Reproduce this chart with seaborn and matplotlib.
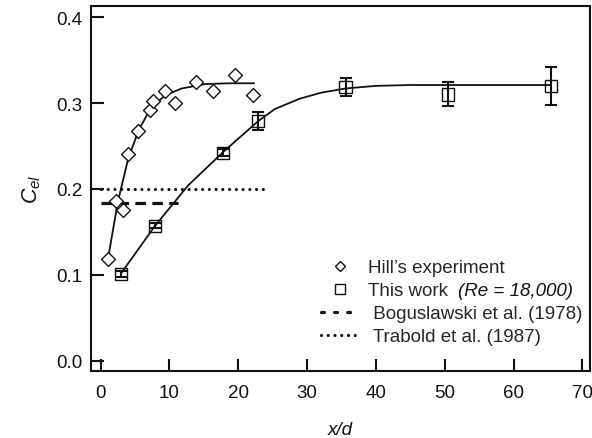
import numpy as np
import pandas as pd
import matplotlib
matplotlib.use("Agg")
import matplotlib.pyplot as plt
from matplotlib.lines import Line2D
import seaborn as sns

# ---------------------------- DATA ----------------------------
# Hill's experiment (diamonds)
hill_x = [1.1, 2.2, 3.3, 4.0, 5.5, 7.2, 7.6, 9.35, 10.8, 13.8, 16.3, 19.5, 22.2]
hill_y = [0.118, 0.186, 0.176, 0.241, 0.268, 0.292, 0.302, 0.314, 0.300, 0.324, 0.314, 0.333, 0.309]

# Fitted curve through Hill's data
hill_fit_x = [1.1, 2.5, 4.0, 5.5, 7.2, 9.35, 11.8, 15.1, 18.5, 22.3]
hill_fit_y = [0.120, 0.185, 0.235, 0.268, 0.293, 0.309, 0.317, 0.322, 0.323, 0.323]

# This work (squares with error bars)
work_x = [3.0, 7.9, 17.8, 22.9, 35.6, 50.5, 65.4]
work_y = [0.101, 0.157, 0.242, 0.279, 0.319, 0.310, 0.320]
work_err = [0.003, 0.003, 0.004, 0.010, 0.0105, 0.014, 0.0225]

# Curve through this work
work_fit_x = [3.0, 7.9, 12.7, 17.8, 22.9, 25.3, 28.9, 32.0, 35.6, 40.0, 45.0, 55.0, 65.4]
work_fit_y = [0.102, 0.157, 0.204, 0.243, 0.279, 0.293, 0.305, 0.312, 0.317, 0.320, 0.321, 0.321, 0.321]

# Reference levels
bogus_x = [0.0, 11.3]
bogus_y = [0.184, 0.184]
trabold_x = [0.0, 23.8]
trabold_y = [0.200, 0.200]

x_ticks = [0, 10, 20, 30, 40, 50, 60, 70]
y_ticks = [0.0, 0.1, 0.2, 0.3, 0.4]

# ---------------------------- STYLE ----------------------------
sns.set_theme(style="ticks")
plt.rcParams["font.family"] = ["Liberation Sans", "DejaVu Sans"]
plt.rcParams["mathtext.fontset"] = "custom"
plt.rcParams["mathtext.rm"] = "Liberation Sans"
plt.rcParams["mathtext.it"] = "Liberation Sans:italic"

FS = 13.5
black = "#111111"
dotted = (0, (0.01, 2.1))
dashed = (0, (3.3, 2))

fig = plt.figure(figsize=(5.92, 4.39), dpi=100)
ax = fig.add_axes([91 / 592, 1 - 372 / 439, 499 / 592, 365 / 439])

# ---------------------------- PLOTTING ----------------------------
# Reference lines
sns.lineplot(x=trabold_x, y=trabold_y, ax=ax, color=black, lw=2.3,
             linestyle=dotted, dash_capstyle="round")
sns.lineplot(x=bogus_x, y=bogus_y, ax=ax, color=black, lw=2.3,
             linestyle=dashed, dash_capstyle="butt")

# Fitted curves
sns.lineplot(x=hill_fit_x, y=hill_fit_y, ax=ax, color=black, lw=1.3, sort=False)
sns.lineplot(x=work_fit_x, y=work_fit_y, ax=ax, color=black, lw=1.3, sort=False)

# Error bars for this work
ax.errorbar(work_x, work_y, yerr=work_err, fmt="none", ecolor=black,
            elinewidth=1.5, capsize=4.5, capthick=1.5, zorder=3)

# Markers
sns.scatterplot(x=hill_x, y=hill_y, ax=ax, marker="D", s=50,
                facecolor="white", edgecolor=black, linewidth=1.0, zorder=4)
sns.scatterplot(x=work_x, y=work_y, ax=ax, marker="s", s=80,
                facecolor="none", edgecolor=black, linewidth=1.0, zorder=4)

# ---------------------------- AXES ----------------------------
ax.set_xlim(-1.4, 71.1)
ax.set_ylim(-0.012, 0.413)
ax.set_xticks(x_ticks)
ax.set_yticks(y_ticks)
ax.set_yticklabels([f"{v:.1f}" for v in y_ticks])
ax.tick_params(direction="in", length=9, width=1.5, labelsize=FS,
               colors=black, pad=6)
ax.tick_params(axis="x", pad=9)
for sp in ax.spines.values():
    sp.set_linewidth(1.5)
    sp.set_color(black)

ax.set_xlabel("x/d", fontsize=FS, fontstyle="italic", labelpad=15, color=black)
ax.set_ylabel(r"$C_{el}$", fontsize=FS + 2, labelpad=10, color=black)

# ---------------------------- LEGEND ----------------------------
handles = [
    Line2D([], [], ls="none", marker="D", ms=5.5, mfc="white", mec=black, mew=1.0),
    Line2D([], [], ls="none", marker="s", ms=7, mfc="white", mec=black, mew=1.0),
    Line2D([], [], color=black, lw=2.3, ls=(0, (0.9, 3.2)), dash_capstyle="round"),
    Line2D([], [], color=black, lw=2.3, ls=dotted, dash_capstyle="round"),
]
labels = [
    "Hill\u2019s experiment",
    "This work",
    " Boguslawski et al. (1978)",
    " Trabold et al. (1987)",
]
ax.legend(handles, labels, loc="upper left", frameon=False, fontsize=FS,
          bbox_to_anchor=(321 / 592, 1 - 260 / 439), bbox_transform=fig.transFigure,
          borderaxespad=0, borderpad=0, handlelength=2.0, handletextpad=0.5,
          labelspacing=0.32)

# italic Reynolds number next to "This work"
fig.text(458 / 592, 1 - 291 / 439, "(Re = 18,000)", fontsize=FS,
         fontstyle="italic", va="center", ha="left", color=black)

fig.savefig("out.png", dpi=100)
